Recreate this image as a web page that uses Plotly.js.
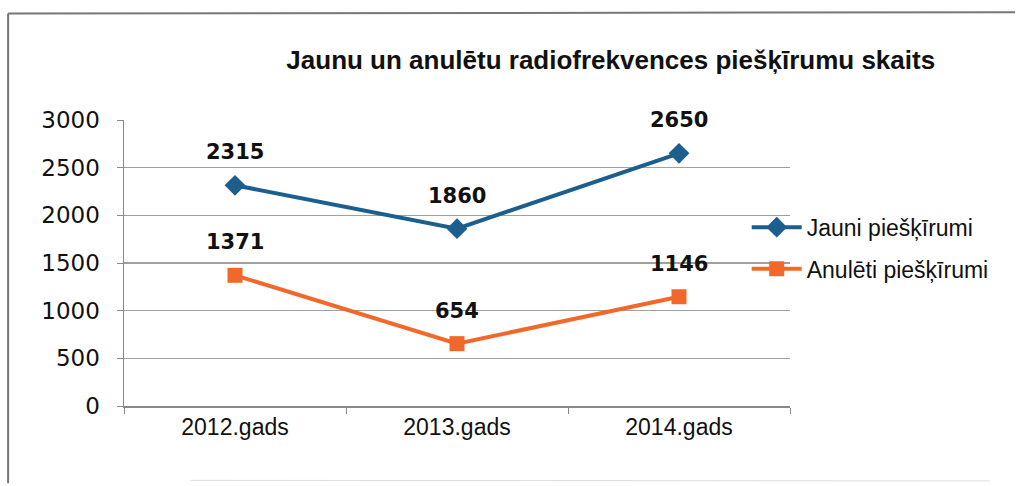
<!DOCTYPE html>
<html>
<head>
<meta charset="utf-8">
<script src="https://cdn.plot.ly/plotly-3.0.1.min.js"></script>
<style>html,body{margin:0;padding:0;background:#fff;}#chart{width:1023px;height:486px;}</style>
</head>
<body>
<div id="chart"></div>
<script>
const categories = ["2012.gads", "2013.gads", "2014.gads"];
const seriesNames = ["Jauni piešķīrumi", "Anulēti piešķīrumi"];
const jauni = [2315, 1860, 2650];
const anuleti = [1371, 654, 1146];
const yTicks = [0, 500, 1000, 1500, 2000, 2500, 3000];
const titleText = "Jaunu un anulētu radiofrekvences piešķīrumu skaits";

const blue = "#1c5e8e";
const orange = "#f2672a";

const traces = [
  {x: categories, y: jauni, name: seriesNames[0], type: "scatter", mode: "lines+markers",
   line: {color: blue, width: 4}, marker: {symbol: "diamond", size: 16, color: blue},
   legend: "legend"},
  {x: categories, y: anuleti, name: seriesNames[1], type: "scatter", mode: "lines+markers",
   line: {color: orange, width: 4}, marker: {symbol: "square", size: 15, color: orange},
   legend: "legend2"}
];

const annotations = [];
[jauni, anuleti].forEach(function (vals) {
  vals.forEach(function (v, i) {
    annotations.push({x: categories[i], y: v, xref: "x", yref: "y", text: String(v),
      showarrow: false, yshift: 33,
      font: {family: "DejaVu Sans", size: 21, color: "#111", weight: "bold"}});
  });
});

const legendFont = {family: "Liberation Sans, Arial, sans-serif", size: 23, color: "#111"};

const layout = {
  width: 1023, height: 486,
  margin: {l: 124, r: 233, t: 120, b: 80},
  paper_bgcolor: "#fff", plot_bgcolor: "#fff",
  showlegend: true,
  title: {text: "<b>" + titleText + "</b>", x: 0.597, xanchor: "center", y: 0.877, yanchor: "middle",
    font: {family: "Liberation Sans, Arial, sans-serif", size: 26, color: "#111"}},
  xaxis: {type: "category", range: [-0.5, 2.5], tickson: "boundaries", ticks: "outside", ticklen: 6, tickcolor: "#888",
    showline: true, linecolor: "#888", linewidth: 1.5, showgrid: false,
    tickfont: {family: "Liberation Sans, Arial, sans-serif", size: 23, color: "#111"}},
  yaxis: {range: [0, 3000], tickvals: yTicks, ticks: "outside", ticklen: 6, tickcolor: "#888",
    showline: true, linecolor: "#888", linewidth: 1.5, gridcolor: "#a0a0a0", gridwidth: 1.2,
    zeroline: false, ticklabelstandoff: 12,
    tickfont: {family: "DejaVu Sans, Verdana, sans-serif", size: 23, color: "#111"}},
  legend: {x: 0.935, y: 0.625, xanchor: "left", yanchor: "middle", font: legendFont,
    bgcolor: "rgba(0,0,0,0)", itemwidth: 50},
  legend2: {x: 0.935, y: 0.48, xanchor: "left", yanchor: "middle", font: legendFont,
    bgcolor: "rgba(0,0,0,0)", itemwidth: 50},
  annotations: annotations,
  shapes: [
    {type: "line", xref: "paper", yref: "paper", x0: -0.174, x1: 1.338, y0: 1.372, y1: 1.377,
     line: {color: "#777", width: 2}},
    {type: "line", xref: "paper", yref: "paper", x0: -0.174, x1: -0.174, y0: 1.372, y1: -0.27,
     line: {color: "#777", width: 2}},
    {type: "line", xref: "paper", yref: "paper", x0: 0.1, x1: 1.3, y0: -0.26, y1: -0.262,
     line: {color: "#ddd", width: 1}}
  ]
};

Plotly.newPlot("chart", traces, layout, {displayModeBar: false, staticPlot: true});
</script>
</body>
</html>
